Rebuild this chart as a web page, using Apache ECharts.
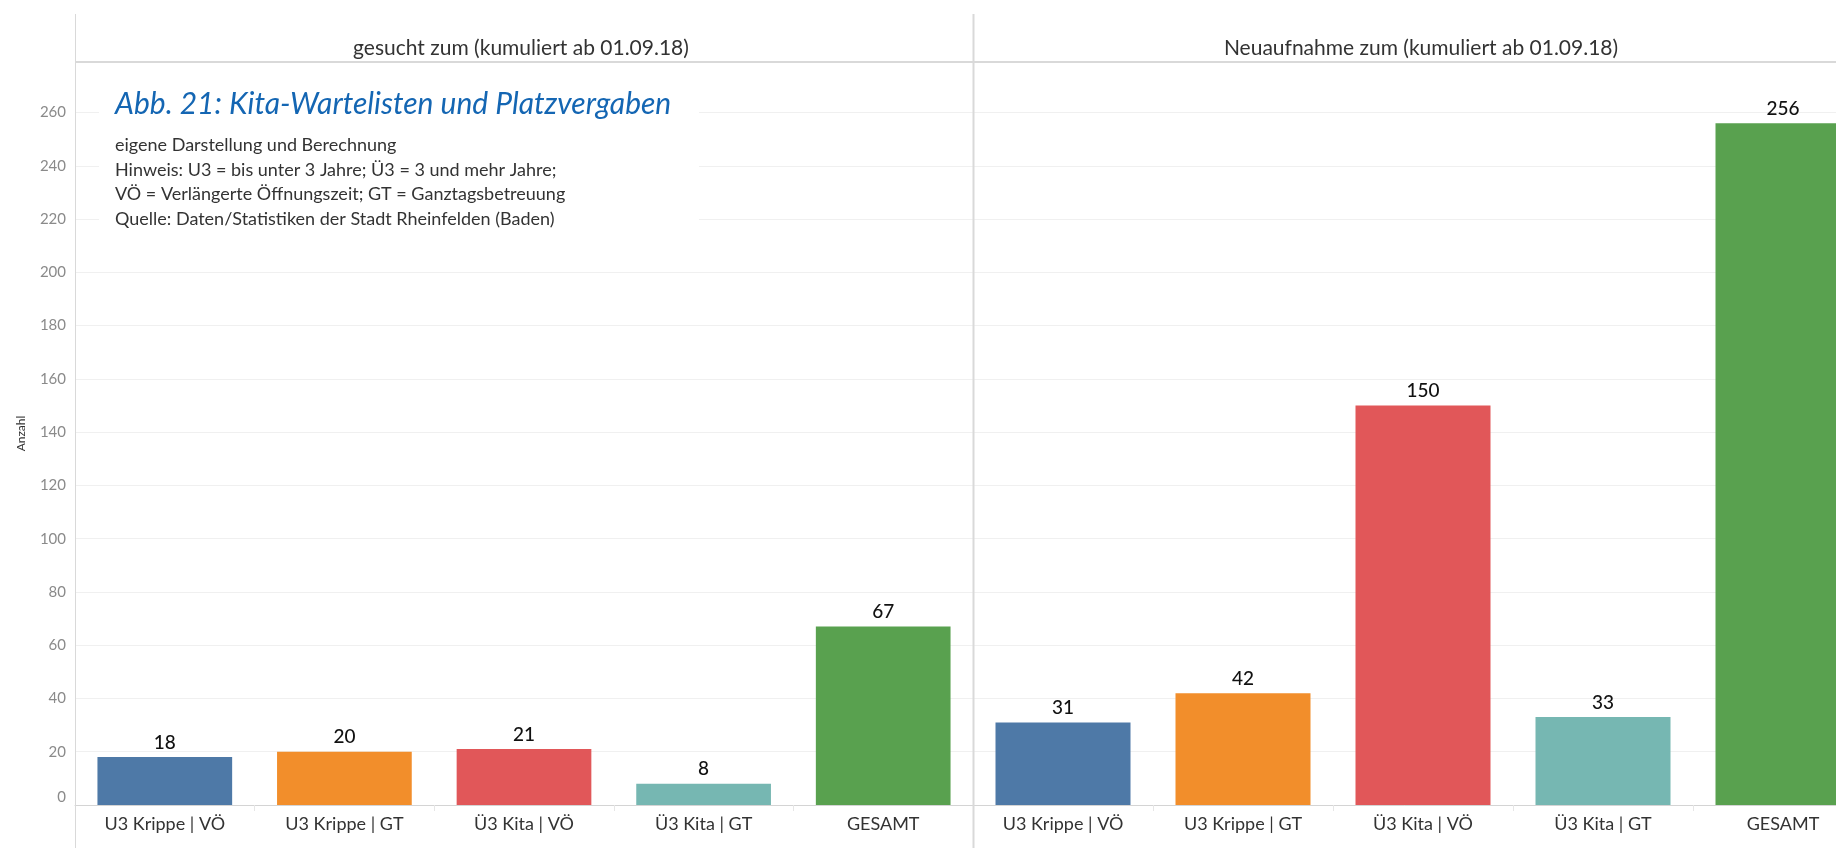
<!DOCTYPE html>
<html><head><meta charset="utf-8">
<script src="https://cdn.jsdelivr.net/npm/echarts@6/dist/echarts.min.js"></script>
<style>html,body{margin:0;padding:0;background:#fff}#c{width:1836px;height:848px}</style>
</head><body><div id="c"></div>
<script>
const categories = ['U3 Krippe | VÖ', 'U3 Krippe | GT', 'Ü3 Kita | VÖ', 'Ü3 Kita | GT', 'GESAMT'];
const gesucht = [18, 20, 21, 8, 67];
const neuaufnahme = [31, 42, 150, 33, 256];
const colors = ['#4e79a7', '#f28e2b', '#e15759', '#76b7b2', '#59a14f'];
const panelTitles = ['gesucht zum (kumuliert ab 01.09.18)', 'Neuaufnahme zum (kumuliert ab 01.09.18)'];
const yTicks = [0, 20, 40, 60, 80, 100, 120, 140, 160, 180, 200, 220, 240, 260];
const titleText = 'Abb. 21: Kita-Wartelisten und Platzvergaben';
const noteLines = ['eigene Darstellung und Berechnung', 'Hinweis: U3 = bis unter 3 Jahre; Ü3 = 3 und mehr Jahre;', 'VÖ = Verlängerte Öffnungszeit; GT = Ganztagsbetreuung', 'Quelle: Daten/Statistiken der Stadt Rheinfelden (Baden)'];

const FONT = 'Lato, "Open Sans", sans-serif';
const chart = echarts.init(document.getElementById('c'));
const TOP = 62, BOTTOM_Y = 805, H = BOTTOM_Y - TOP;
const yMax = 279;

function xAxis(gi) {
  return {
    type: 'category', gridIndex: gi, data: categories,
    axisLine: {show: true, lineStyle: {color: '#d4d4d4', width: 1}},
    axisTick: {show: true, length: 6, lineStyle: {color: '#e6e6e6'}},
    axisLabel: {color: '#333', fontSize: 18, fontFamily: FONT, margin: 10}
  };
}
function yAxis(gi, showLabels) {
  return {
    type: 'value', gridIndex: gi, min: 0, max: yMax, interval: 20,
    axisLine: {show: false}, axisTick: {show: false},
    axisLabel: {show: showLabels, color: '#8a8a8a', fontSize: 15, fontFamily: FONT, margin: 9,
      showMaxLabel: false, verticalAlignMinLabel: 'bottom',
      formatter: v => yTicks.includes(v) ? String(v) : ''},
    splitLine: {show: true, lineStyle: {color: '#f0f0f0', width: 1}},
    name: showLabels ? 'Anzahl' : '', nameLocation: 'middle', nameGap: 48, nameRotate: 90,
    nameTextStyle: {color: '#333', fontSize: 12, fontFamily: FONT}
  };
}
function barSeries(gi, data) {
  return {
    type: 'bar', xAxisIndex: gi, yAxisIndex: gi, barCategoryGap: '25%',
    data: data.map((v, i) => ({value: v, itemStyle: {color: colors[i]}})),
    label: {show: true, position: 'top', distance: 5, color: '#111', fontSize: 19, fontFamily: FONT, fontWeight: 500},
    silent: true
  };
}

const graphics = [
  {type: 'line', shape: {x1: 75.5, y1: 14, x2: 75.5, y2: 848}, style: {stroke: '#d9d9d9', lineWidth: 1}, z: 10},
  {type: 'line', shape: {x1: 973.5, y1: 14, x2: 973.5, y2: 848}, style: {stroke: '#d9d9d9', lineWidth: 2}, z: 10},
  {type: 'line', shape: {x1: 75, y1: 62, x2: 1836, y2: 62}, style: {stroke: '#d9d9d9', lineWidth: 2}, z: 10},
  {type: 'text', x: 521, y: 48, style: {text: panelTitles[0], fill: '#333', fontSize: 21, fontFamily: FONT, textAlign: 'center', textVerticalAlign: 'middle'}, z: 10},
  {type: 'text', x: 1421, y: 48, style: {text: panelTitles[1], fill: '#333', fontSize: 21, fontFamily: FONT, textAlign: 'center', textVerticalAlign: 'middle'}, z: 10},
  {type: 'rect', shape: {x: 99, y: 72, width: 600, height: 168}, style: {fill: '#fff'}, z: 5},
  {type: 'text', x: 115, y: 104, style: {text: titleText, fill: '#1466b3', fontSize: 30, fontStyle: 'italic', fontFamily: FONT, textVerticalAlign: 'middle'}, z: 10}
];
noteLines.forEach((t, i) => graphics.push({type: 'text', x: 115, y: 145 + i * 24.7, style: {text: t, fill: '#333', fontSize: 18, fontFamily: FONT, textVerticalAlign: 'middle'}, z: 10}));

chart.setOption({
  animation: false,
  grid: [
    {left: 75, top: TOP, width: 898, height: H, outerBoundsMode: 'none'},
    {left: 973, top: TOP, width: 900, height: H, outerBoundsMode: 'none'}
  ],
  xAxis: [xAxis(0), xAxis(1)],
  yAxis: [yAxis(0, true), yAxis(1, false)],
  series: [barSeries(0, gesucht), barSeries(1, neuaufnahme)],
  graphic: graphics
});
</script></body></html>
